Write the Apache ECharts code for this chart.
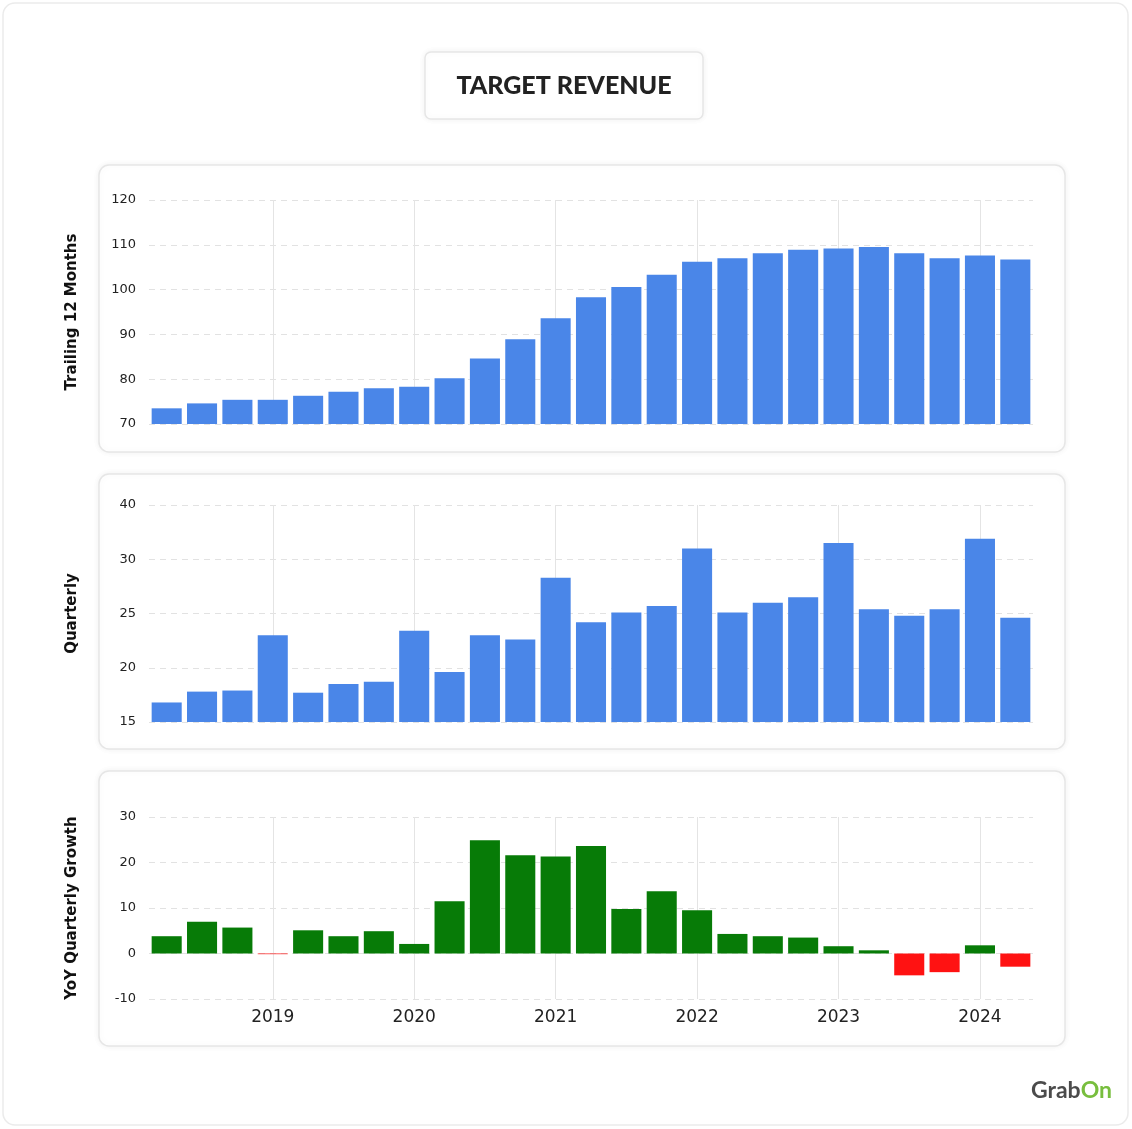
<!DOCTYPE html>
<html>
<head>
<meta charset="utf-8">
<script src="https://cdn.jsdelivr.net/npm/echarts@6/dist/echarts.min.js"></script>
<style>
html,body{margin:0;padding:0;background:#fff;}
#c{width:1132px;height:1129px;}
</style>
</head>
<body>
<div id="c"></div>
<script>
// Quarter-end months (Target fiscal quarters)
const quarters = ['2018-04','2018-07','2018-10','2019-01','2019-04','2019-07','2019-10','2020-01',
  '2020-04','2020-07','2020-10','2021-01','2021-04','2021-07','2021-10','2022-01',
  '2022-04','2022-07','2022-10','2023-01','2023-04','2023-07','2023-10','2024-01','2024-04'];
// Trailing 12 months revenue (billions USD)
const ttmRevenue = [73.5,74.6,75.4,75.4,76.3,77.2,78.0,78.3,80.2,84.6,88.9,93.6,
  98.3,100.6,103.3,106.2,107.0,108.1,108.9,109.2,109.5,108.1,107.0,107.6,106.7];
// Quarterly revenue (billions USD)
const quarterlyRevenue = [16.8,17.8,17.9,23.0,17.7,18.5,18.7,23.4,19.6,23.0,22.6,28.3,
  24.2,25.1,25.7,31.0,25.1,26.0,26.5,31.5,25.4,24.8,25.4,31.9,24.6];
// YoY quarterly growth (%)
const yoyGrowth = [3.8,7.0,5.7,-0.15,5.1,3.8,4.9,2.1,11.5,24.9,21.6,21.3,
  23.6,9.8,13.7,9.5,4.3,3.8,3.5,1.6,0.7,-4.8,-4.1,1.8,-2.9];
// Tick labels as printed on the quarterly axis
const quarterlyTickLabels = {15:'15',20:'20',25:'25',30:'30',35:'40'};

const FONT = '"DejaVu Sans", Verdana, sans-serif';
const BLUE = '#4a86e8', GREEN = '#077b07', RED = '#ff1212';
const isYear = (i) => i % 4 === 3;

function xAxis(gridIndex, showLabels) {
  return {
    type: 'category', gridIndex, data: quarters, boundaryGap: true,
    axisLine: {show: false}, axisTick: {show: false},
    axisLabel: {
      show: showLabels, interval: (i) => isYear(i),
      formatter: (v) => v.slice(0, 4),
      color: '#222', fontFamily: FONT, fontSize: 17, margin: 10
    },
    splitLine: {show: true, interval: (i) => isYear(i), alignWithLabel: true,
      lineStyle: {color: '#e4e4e4', width: 1, type: 'solid'}}
  };
}
function yAxis(gridIndex, name, min, max, interval, fmt) {
  return {
    type: 'value', gridIndex, min, max, interval,
    name, nameLocation: 'middle', nameGap: 69, nameRotate: 90,
    nameTextStyle: {fontFamily: FONT, fontWeight: 'bold', fontSize: 15, color: '#111'},
    axisLine: {show: false}, axisTick: {show: false},
    axisLabel: {color: '#222', fontFamily: FONT, fontSize: 13, margin: 13, formatter: fmt},
    splitLine: {show: true, lineStyle: {color: '#e2e2e2', type: [6, 5], width: 1}}
  };
}

const panelStyle = {fill: '#fff', stroke: '#e6e6e6', lineWidth: 1.5, shadowBlur: 6, shadowColor: 'rgba(0,0,0,0.06)'};

const chart = echarts.init(document.getElementById('c'), null, {renderer: 'canvas'});
chart.setOption({
  backgroundColor: '#fff',
  animation: false,
  graphic: [
    {type: 'rect', z: -10, shape: {x: 3, y: 3, width: 1125, height: 1122, r: 12}, style: {fill: '#fff', stroke: '#ebebeb', lineWidth: 1.5}},
    {type: 'rect', z: -9, shape: {x: 425, y: 52, width: 278, height: 67, r: 6}, style: panelStyle},
    {type: 'text', z: 10, x: 564, y: 86, style: {text: 'TARGET REVENUE', fontFamily: 'Lato, "Open Sans", sans-serif', fontWeight: 900, fontSize: 25, fill: '#222', align: 'center', verticalAlign: 'middle'}},
    {type: 'rect', z: -9, shape: {x: 99, y: 165, width: 966, height: 287, r: 10}, style: panelStyle},
    {type: 'rect', z: -9, shape: {x: 99, y: 474, width: 966, height: 275, r: 10}, style: panelStyle},
    {type: 'rect', z: -9, shape: {x: 99, y: 771, width: 966, height: 275, r: 10}, style: panelStyle},
    {type: 'text', z: 10, x: 1112, y: 1091, style: {
      text: '{a|Grab}{b|On}', align: 'right', verticalAlign: 'middle',
      rich: {
        a: {fontFamily: 'Lato, sans-serif', fontWeight: 'bold', fontSize: 23, fill: '#4b4b4b'},
        b: {fontFamily: 'Lato, sans-serif', fontWeight: 'bold', fontSize: 23, fill: '#78be3e'}
      }}}
  ],
  grid: [
    {left: 149, right: 99, top: 200, height: 224},
    {left: 149, right: 99, top: 505, height: 217},
    {left: 149, right: 99, top: 817, height: 182}
  ],
  xAxis: [xAxis(0, false), xAxis(1, false), xAxis(2, true)],
  yAxis: [
    yAxis(0, 'Trailing 12 Months', 70, 120, 10),
    yAxis(1, 'Quarterly', 15, 35, 5, (v) => quarterlyTickLabels[v] ?? String(v)),
    yAxis(2, 'YoY Quarterly Growth', -10, 30, 10)
  ],
  series: [
    {type: 'bar', xAxisIndex: 0, yAxisIndex: 0, data: ttmRevenue, barCategoryGap: '15%', itemStyle: {color: BLUE}},
    {type: 'bar', xAxisIndex: 1, yAxisIndex: 1, data: quarterlyRevenue, barCategoryGap: '15%', itemStyle: {color: BLUE}},
    {type: 'bar', xAxisIndex: 2, yAxisIndex: 2, data: yoyGrowth, barCategoryGap: '15%',
      itemStyle: {color: (p) => p.value < 0 ? RED : GREEN}}
  ]
});
</script>
</body>
</html>
